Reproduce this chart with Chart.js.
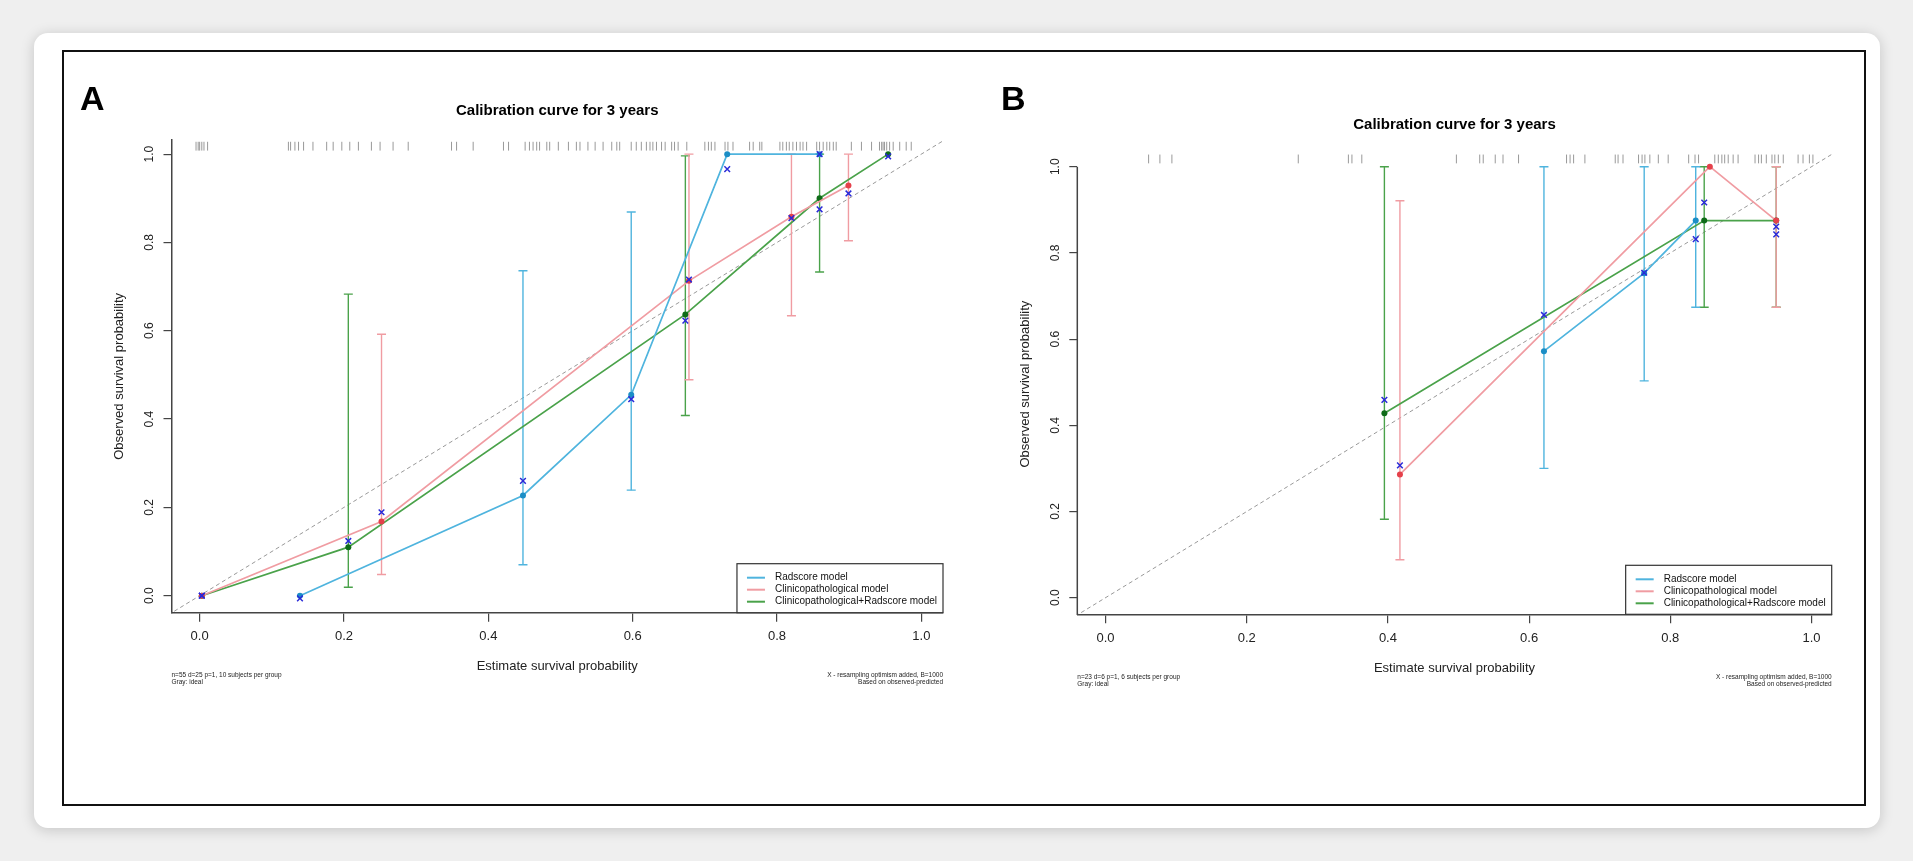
<!DOCTYPE html>
<html>
<head>
<meta charset="utf-8">
<title>Calibration curves</title>
<script src="https://cdn.jsdelivr.net/npm/chart.js@4.4.1/dist/chart.umd.min.js"></script>
<style>
  html, body { margin: 0; padding: 0; background: #efefef; width: 1913px; height: 861px; overflow: hidden; }
  #card { position: absolute; left: 34px; top: 33px; width: 1846px; height: 795px; background: #fff;
          border-radius: 14px; box-shadow: 0 2px 14px rgba(0, 0, 0, 0.18); }
  #frame { position: absolute; left: 62px; top: 50px; width: 1800px; height: 752px; border: 2px solid #111; }
  canvas { position: absolute; }
  #chartA { left: 65px; top: 53px; }
  #chartB { left: 960px; top: 53px; }
</style>
</head>
<body>
<div id="card"></div>
<div id="frame"></div>
<canvas id="chartA" width="890" height="750"></canvas>
<canvas id="chartB" width="902" height="750"></canvas>
<script>
// ---- data ----
const X_TICKS = [0, 0.2, 0.4, 0.6, 0.8, 1.0];
const Y_TICKS = [0, 0.2, 0.4, 0.6, 0.8, 1.0];
const LEGEND_LABELS = ['Radscore model', 'Clinicopathological model', 'Clinicopathological+Radscore model'];

// Panel A (training): predicted x, observed, bias-corrected (X), CI low / high
const A_RAD_X = [0.139, 0.448, 0.598, 0.731, 0.859];
const A_RAD_OBS = [0.0, 0.227, 0.455, 1.0, 1.0];
const A_RAD_CORR = [-0.006, 0.260, 0.445, 0.966, 1.0];
const A_RAD_LO = [null, 0.070, 0.239, null, null];
const A_RAD_HI = [null, 0.736, 0.869, null, null];

const A_CLIN_X = [0.003, 0.252, 0.678, 0.820, 0.899];
const A_CLIN_OBS = [0.0, 0.168, 0.713, 0.858, 0.929];
const A_CLIN_CORR = [0.0, 0.189, 0.716, 0.855, 0.911];
const A_CLIN_LO = [null, 0.048, 0.489, 0.634, 0.804];
const A_CLIN_HI = [null, 0.592, 1.0, 1.0, 1.0];

const A_COMB_X = [0.003, 0.206, 0.673, 0.859, 0.954];
const A_COMB_OBS = [0.0, 0.110, 0.637, 0.900, 1.0];
const A_COMB_CORR = [0.0, 0.124, 0.623, 0.875, 0.995];
const A_COMB_LO = [null, 0.019, 0.408, 0.733, null];
const A_COMB_HI = [null, 0.683, 0.996, 1.0, null];

const A_RUG = [-0.005, -0.002, 0.0, 0.003, 0.006, 0.011,
  0.123, 0.126, 0.132, 0.137, 0.144, 0.157, 0.176, 0.185, 0.197, 0.208, 0.220, 0.238, 0.250, 0.268, 0.289,
  0.349, 0.356, 0.379, 0.421, 0.428, 0.451, 0.457, 0.462, 0.467, 0.471, 0.481, 0.485, 0.497,
  0.511, 0.522, 0.527, 0.538, 0.548, 0.559, 0.571, 0.578, 0.582, 0.598, 0.605, 0.612, 0.619, 0.624,
  0.628, 0.633, 0.640, 0.645, 0.654, 0.658, 0.663, 0.675, 0.700, 0.705, 0.709, 0.714, 0.728, 0.732,
  0.739, 0.762, 0.767, 0.776, 0.779, 0.804, 0.808, 0.813, 0.817, 0.822, 0.827, 0.832, 0.836, 0.841,
  0.855, 0.859, 0.864, 0.869, 0.873, 0.878, 0.882, 0.903, 0.917, 0.931, 0.942, 0.945, 0.947, 0.949,
  0.952, 0.956, 0.961, 0.970, 0.979, 0.986];

// Panel B (validation)
const B_RAD_X = [0.621, 0.763, 0.836];
const B_RAD_OBS = [0.572, 0.753, 0.875];
const B_RAD_CORR = [0.656, 0.754, 0.832];
const B_RAD_LO = [0.300, 0.503, 0.674];
const B_RAD_HI = [1.0, 1.0, 1.0];

const B_CLIN_X = [0.417, 0.856, 0.950];
const B_CLIN_OBS = [0.286, 1.0, 0.875];
const B_CLIN_CORR = [0.307, null, 0.843];
const B_CLIN_LO = [0.088, null, 0.674];
const B_CLIN_HI = [0.921, null, 1.0];

const B_COMB_X = [0.395, 0.848, 0.950];
const B_COMB_OBS = [0.428, 0.875, 0.875];
const B_COMB_CORR = [0.459, 0.917, 0.861];
const B_COMB_LO = [0.182, 0.674, 0.674];
const B_COMB_HI = [1.0, 1.0, 1.0];

const B_RUG = [0.061, 0.077, 0.094, 0.273, 0.344, 0.349, 0.363, 0.497, 0.530, 0.535, 0.552, 0.563,
  0.585, 0.653, 0.658, 0.663, 0.679, 0.722, 0.726, 0.733, 0.755, 0.760, 0.764, 0.771, 0.783, 0.797,
  0.826, 0.835, 0.840, 0.863, 0.868, 0.873, 0.877, 0.882, 0.889, 0.896, 0.920, 0.925, 0.929, 0.936,
  0.944, 0.948, 0.953, 0.960, 0.981, 0.988, 0.997, 1.002];

// ---- styling ----
const FONT = '"Liberation Sans", Arial, Helvetica, sans-serif';
const SERIES_STYLE = [
  { line: '#4fb4de', dot: '#1b8ec6' },
  { line: '#f09ca2', dot: '#e5414b' },
  { line: '#4aa24a', dot: '#0e6b18' },
];
const CROSS_COLOR = '#2a2ad8';
const RUG_LEVEL = 1.018;
const IDEAL = [-0.06, 1.06];

function series(xs, obs, corr, lo, hi) {
  return { xs, obs, corr, lo, hi };
}

/** Turn one panel's series into Chart.js scatter datasets. */
function buildDatasets(seriesList, rug) {
  const sets = [];
  seriesList.forEach((s, k) => {
    const st = SERIES_STYLE[k];
    const crosses = [];
    const bars = [];
    s.xs.forEach((x, i) => {
      if (s.corr[i] !== null) crosses.push({ x, y: s.corr[i] });
      if (s.lo[i] !== null) bars.push({ x, y: s.lo[i] }, { x, y: s.hi[i] }, { x, y: null });
    });
    sets.push({
      label: 'corr' + k, data: crosses, order: 1,
      pointStyle: 'crossRot', pointRadius: 4, pointBorderWidth: 1.5,
      pointBorderColor: CROSS_COLOR, pointBackgroundColor: CROSS_COLOR,
    });
    sets.push({
      label: LEGEND_LABELS[k], data: s.xs.map((x, i) => ({ x, y: s.obs[i] })), order: 2,
      showLine: true, borderColor: st.line, borderWidth: 1.7,
      pointRadius: 3, pointBorderWidth: 0, pointBackgroundColor: st.dot, pointBorderColor: st.dot,
    });
    sets.push({
      label: 'ci' + k, data: bars, order: 3, showLine: true, spanGaps: false,
      borderColor: st.line, borderWidth: 1.4,
      pointStyle: 'line', pointRadius: 4.5, pointBorderWidth: 1.4, pointBorderColor: st.line,
    });
  });
  sets.push({
    label: 'ideal', data: IDEAL.map(v => ({ x: v, y: v })), order: 4,
    showLine: true, borderColor: '#999', borderWidth: 1, borderDash: [4, 3], pointRadius: 0,
  });
  sets.push({
    label: 'rug', data: rug.map(v => ({ x: v, y: RUG_LEVEL })), order: 5,
    pointStyle: 'line', rotation: 90, pointRadius: 4.4, pointBorderWidth: 1,
    pointBorderColor: 'rgba(85, 85, 85, 0.6)',
  });
  return sets;
}

/** Titles, rotated y labels, legend and footnotes, in R's layout. */
const calibDecor = {
  id: 'calibDecor',
  afterDraw(chart, args, opts) {
    const { ctx, chartArea: area, scales: { y } } = chart;
    const midX = (area.left + area.right) / 2;
    ctx.save();

    if (opts.axisFrom !== undefined) {
      ctx.strokeStyle = '#444';
      ctx.lineWidth = 1.5;
      ctx.beginPath();
      ctx.moveTo(area.left, y.getPixelForValue(opts.axisFrom));
      ctx.lineTo(area.left, area.bottom + 0.75);
      ctx.stroke();
    }

    ctx.fillStyle = '#000';
    ctx.font = `bold 34px ${FONT}`;
    ctx.textAlign = 'left';
    ctx.textBaseline = 'alphabetic';
    ctx.fillText(opts.letter, opts.letterX, opts.letterY);

    ctx.font = `bold 15px ${FONT}`;
    ctx.textAlign = 'center';
    ctx.textBaseline = 'middle';
    ctx.fillText(opts.title, midX, area.top - 29);

    ctx.fillStyle = '#222';
    ctx.font = `12px ${FONT}`;
    y.ticks.forEach(t => {
      ctx.save();
      ctx.translate(area.left - 22, y.getPixelForValue(t.value));
      ctx.rotate(-Math.PI / 2);
      ctx.fillText(t.label, 0, 0);
      ctx.restore();
    });

    ctx.font = `13px ${FONT}`;
    ctx.save();
    ctx.translate(area.left - 52, (area.top + area.bottom) / 2);
    ctx.rotate(-Math.PI / 2);
    ctx.fillText('Observed survival probability', 0, 0);
    ctx.restore();
    ctx.fillText('Estimate survival probability', midX, area.bottom + 54);

    // legend box, bottom-right of the plot region
    ctx.font = `10px ${FONT}`;
    const textW = Math.max(...LEGEND_LABELS.map(l => ctx.measureText(l).width));
    const boxW = textW + 44;
    const boxH = 49;
    const bx = area.right - boxW;
    const by = area.bottom - boxH;
    ctx.fillStyle = '#fff';
    ctx.fillRect(bx, by, boxW, boxH);
    ctx.strokeStyle = '#333';
    ctx.lineWidth = 1.2;
    ctx.strokeRect(bx, by, boxW, boxH);
    ctx.textAlign = 'left';
    LEGEND_LABELS.forEach((label, i) => {
      const ry = by + 14 + i * 12;
      ctx.strokeStyle = SERIES_STYLE[i].line;
      ctx.lineWidth = 2;
      ctx.beginPath();
      ctx.moveTo(bx + 10, ry);
      ctx.lineTo(bx + 28, ry);
      ctx.stroke();
      ctx.fillStyle = '#111';
      ctx.fillText(label, bx + 38, ry);
    });

    ctx.font = `6.5px ${FONT}`;
    ctx.fillStyle = '#222';
    opts.notesLeft.forEach((line, i) => ctx.fillText(line, area.left, area.bottom + 62.5 + i * 7));
    ctx.textAlign = 'right';
    opts.notesRight.forEach((line, i) => ctx.fillText(line, area.right, area.bottom + 62.5 + i * 7));
    ctx.restore();
  },
};

function axis(min, max, ticks, size, horizontal, showBorder) {
  return {
    type: 'linear', min, max,
    afterBuildTicks: s => { s.ticks = ticks.map(v => ({ value: v })); },
    afterFit: s => { if (horizontal) s.height = size; else s.width = size; },
    grid: { drawOnChartArea: false, drawTicks: true, tickLength: horizontal ? 9 : 8, color: '#444', lineWidth: 1.2 },
    border: { display: showBorder, color: '#444', width: 1.5 },
    ticks: {
      display: horizontal, padding: 7, color: '#222', font: { family: FONT, size: 13 },
      callback: v => Number(v).toFixed(1),
    },
  };
}

function renderPanel(canvasId, panel) {
  return new Chart(document.getElementById(canvasId), {
    type: 'scatter',
    data: { datasets: buildDatasets(panel.series, panel.rug) },
    options: {
      responsive: false, animation: false, events: [],
      layout: { padding: panel.padding },
      scales: {
        x: axis(panel.xRange[0], panel.xRange[1], X_TICKS, 60, true, true),
        y: axis(panel.yRange[0], panel.yRange[1], Y_TICKS, 40, false, panel.decor.axisFrom === undefined),
      },
      plugins: {
        legend: { display: false },
        tooltip: { enabled: false },
        calibDecor: panel.decor,
      },
    },
    plugins: [calibDecor],
  });
}

renderPanel('chartA', {
  series: [
    series(A_RAD_X, A_RAD_OBS, A_RAD_CORR, A_RAD_LO, A_RAD_HI),
    series(A_CLIN_X, A_CLIN_OBS, A_CLIN_CORR, A_CLIN_LO, A_CLIN_HI),
    series(A_COMB_X, A_COMB_OBS, A_COMB_CORR, A_COMB_LO, A_COMB_HI),
  ],
  rug: A_RUG,
  xRange: [-0.039, 1.03],
  yRange: [-0.0385, 1.032],
  padding: { left: 66.5, right: 12, top: 87, bottom: 130.3 },
  decor: {
    letter: 'A', letterX: 15, letterY: 57,
    title: 'Calibration curve for 3 years',
    notesLeft: ['n=55 d=25 p=1, 10 subjects per group', 'Gray: ideal'],
    notesRight: ['X - resampling optimism added, B=1000', 'Based on observed-predicted'],
  },
});

renderPanel('chartB', {
  series: [
    series(B_RAD_X, B_RAD_OBS, B_RAD_CORR, B_RAD_LO, B_RAD_HI),
    series(B_CLIN_X, B_CLIN_OBS, B_CLIN_CORR, B_CLIN_LO, B_CLIN_HI),
    series(B_COMB_X, B_COMB_OBS, B_COMB_CORR, B_COMB_LO, B_COMB_HI),
  ],
  rug: B_RUG,
  xRange: [-0.04, 1.0286],
  yRange: [-0.0385, 1.0295],
  padding: { left: 77.3, right: 30.3, top: 101, bottom: 128.7 },
  decor: {
    letter: 'B', letterX: 41, letterY: 57,
    title: 'Calibration curve for 3 years',
    axisFrom: 1.0,
    notesLeft: ['n=23 d=6 p=1, 6 subjects per group', 'Gray: ideal'],
    notesRight: ['X - resampling optimism added, B=1000', 'Based on observed-predicted'],
  },
});
</script>
</body>
</html>
